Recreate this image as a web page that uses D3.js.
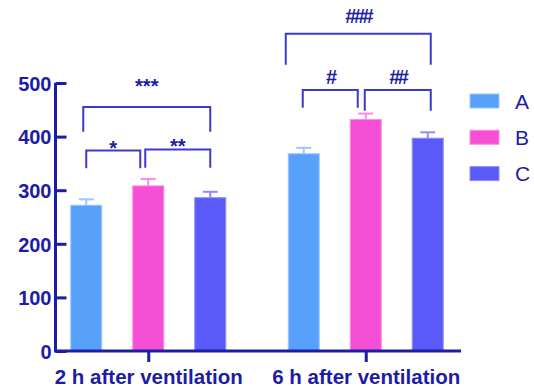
<!DOCTYPE html>
<html>
<head>
<meta charset="utf-8">
<script src="https://cdn.jsdelivr.net/npm/d3@7"></script>
<style>
  body { margin: 0; background: #fff; }
  svg { display: block; font-family: "Liberation Sans", Arial, sans-serif; }
</style>
</head>
<body>
<div id="chart"></div>
<script>
// data
var groups = ["2 h after ventilation", "6 h after ventilation"];
var series = ["A", "B", "C"];
var meanA = [272, 368];
var meanB = [308, 432];
var meanC = [286, 397];
var errA = [11, 11];
var errB = [13, 11];
var errC = [11, 11];
var yTicks = [0, 100, 200, 300, 400, 500];

// significance brackets: group, from series, to series, low/high value, label
var bracketGroup = [0, 0, 0, 1, 1, 1];
var bracketFrom  = ["A", "B", "A", "A", "B", "A"];
var bracketTo    = ["B", "C", "C", "B", "C", "C"];
var bracketLow   = [341, 342, 409, 454, 448, 534];
var bracketHigh  = [374, 376, 455, 487, 487, 592];
var bracketText  = ["*", "**", "***", "#", "##", "###"];

var colors = { A: "#57a1fb", B: "#f550d5", C: "#5a5af9" };
var edges  = { A: "#9cc8ff", B: "#fb8ae6", C: "#8e8efc" };
var ink = "#1c1ca6";
var bracketInk = "#3a3ad0";

var width = 534, height = 389;
var svg = d3.select("#chart").append("svg").attr("width", width).attr("height", height);

var y = d3.scaleLinear().domain([0, 500]).range([351, 83]);
var x0 = d3.scalePoint().domain(groups).range([39.5, 474.5]).padding(0.5);
var x1 = d3.scaleBand().domain(series).range([-93, 93]).paddingInner(0.5).paddingOuter(0.25);

var rows = [];
var means = { A: meanA, B: meanB, C: meanC };
var errs = { A: errA, B: errB, C: errC };
groups.forEach(function(g, gi) {
    series.forEach(function(s) {
        rows.push({ group: g, key: s, value: means[s][gi], err: errs[s][gi] });
    });
});

function barX(d) { return x0(d.group) + x1(d.key); }
function barMid(g, s) { return x0(g) + x1(s) + x1.bandwidth() / 2; }

// error bars (upper only)
var eb = svg.append("g").selectAll("g").data(rows).enter().append("g")
    .attr("stroke", function(d) { return edges[d.key]; })
    .attr("stroke-width", 2);
eb.append("line")
    .attr("x1", function(d) { return barX(d) + x1.bandwidth() / 2; })
    .attr("x2", function(d) { return barX(d) + x1.bandwidth() / 2; })
    .attr("y1", function(d) { return y(d.value); })
    .attr("y2", function(d) { return y(d.value + d.err); });
eb.append("line")
    .attr("x1", function(d) { return barX(d) + x1.bandwidth() / 2 - 7.5; })
    .attr("x2", function(d) { return barX(d) + x1.bandwidth() / 2 + 7.5; })
    .attr("y1", function(d) { return y(d.value + d.err); })
    .attr("y2", function(d) { return y(d.value + d.err); });

// bars
svg.append("g").selectAll("rect").data(rows).enter().append("rect")
    .attr("x", barX)
    .attr("y", function(d) { return y(d.value); })
    .attr("width", x1.bandwidth())
    .attr("height", function(d) { return y(0) - y(d.value); })
    .attr("fill", function(d) { return colors[d.key]; })
    .attr("stroke", function(d) { return edges[d.key]; })
    .attr("stroke-width", 1);

// y axis, ticks pointing inward
var yAxis = svg.append("g")
    .attr("transform", "translate(" + 55.5 + ",0)")
    .call(d3.axisRight(y).tickValues(yTicks).tickSize(11).tickFormat(d3.format("d")));
yAxis.select(".domain").attr("d", "M0," + y(500) + "V" + y(0));
yAxis.selectAll("line, path").attr("stroke", ink).attr("stroke-width", 3);
yAxis.selectAll("text")
    .attr("x", -4).attr("dy", "0.36em")
    .attr("text-anchor", "end")
    .attr("fill", ink)
    .style("font-size", "20px").style("font-weight", "bold");

// x axis
var xAxis = svg.append("g")
    .attr("transform", "translate(0," + y(0) + ")")
    .call(d3.axisBottom(x0).tickSize(11).tickSizeOuter(0));
xAxis.select(".domain").attr("d", "M54,0H461");
xAxis.selectAll("line, path").attr("stroke", ink).attr("stroke-width", 3);
xAxis.selectAll("text")
    .attr("y", 18).attr("dy", "0.71em")
    .attr("fill", ink)
    .style("font-size", "20.5px").style("font-weight", "bold");

// brackets
var br = bracketText.map(function(t, i) {
    var g = groups[bracketGroup[i]];
    return {
        x1: barMid(g, bracketFrom[i]) - (bracketTo[i] === "B" ? 0 : 3),
        x2: barMid(g, bracketTo[i]) - (bracketTo[i] === "B" ? 8 : 0) + (bracketFrom[i] === "B" && bracketGroup[i] === 1 ? 3 : 0),
        lo: bracketLow[i], hi: bracketHigh[i], text: t
    };
});
br[3].x1 -= 1; br[5].x1 -= 15; br[5].x2 += 3; br[4].x1 += 2;

var bg = svg.append("g").selectAll("g").data(br).enter().append("g");
bg.append("path")
    .attr("d", function(d) {
        return "M" + d.x1 + "," + y(d.lo) + "V" + y(d.hi) + "H" + d.x2 + "V" + y(d.lo);
    })
    .attr("fill", "none")
    .attr("stroke", bracketInk)
    .attr("stroke-width", 2);
bg.append("text")
    .attr("x", function(d) { return (d.x1 + d.x2) / 2; })
    .attr("y", function(d) {
        if (d.text.charAt(0) === "*") {
            return y(d.hi) + (d.text === "***" ? -14 : 4);
        }
        return y(d.hi) - (d.text === "###" ? 11 : 6);
    })
    .attr("text-anchor", "middle")
    .attr("fill", ink)
    .style("font-size", function(d) { return d.text.charAt(0) === "*" ? "20px" : "20px"; })
    .style("font-weight", "bold")
    .style("letter-spacing", function(d) { return d.text.charAt(0) === "#" ? "-2.5px" : "0px"; })
    .text(function(d) { return d.text; });

// legend
var leg = svg.append("g").selectAll("g").data(series).enter().append("g")
    .attr("transform", function(d, i) { return "translate(470," + (94 + i * 36.3) + ")"; });
leg.append("rect")
    .attr("width", 29).attr("height", 14)
    .attr("fill", function(d) { return colors[d]; })
    .attr("stroke", function(d) { return edges[d]; })
    .attr("stroke-width", 1);
leg.append("text")
    .attr("x", 45).attr("y", 7).attr("dy", "0.36em")
    .attr("fill", ink)
    .style("font-size", "21px")
    .text(function(d) { return d; });
</script>
</body>
</html>
